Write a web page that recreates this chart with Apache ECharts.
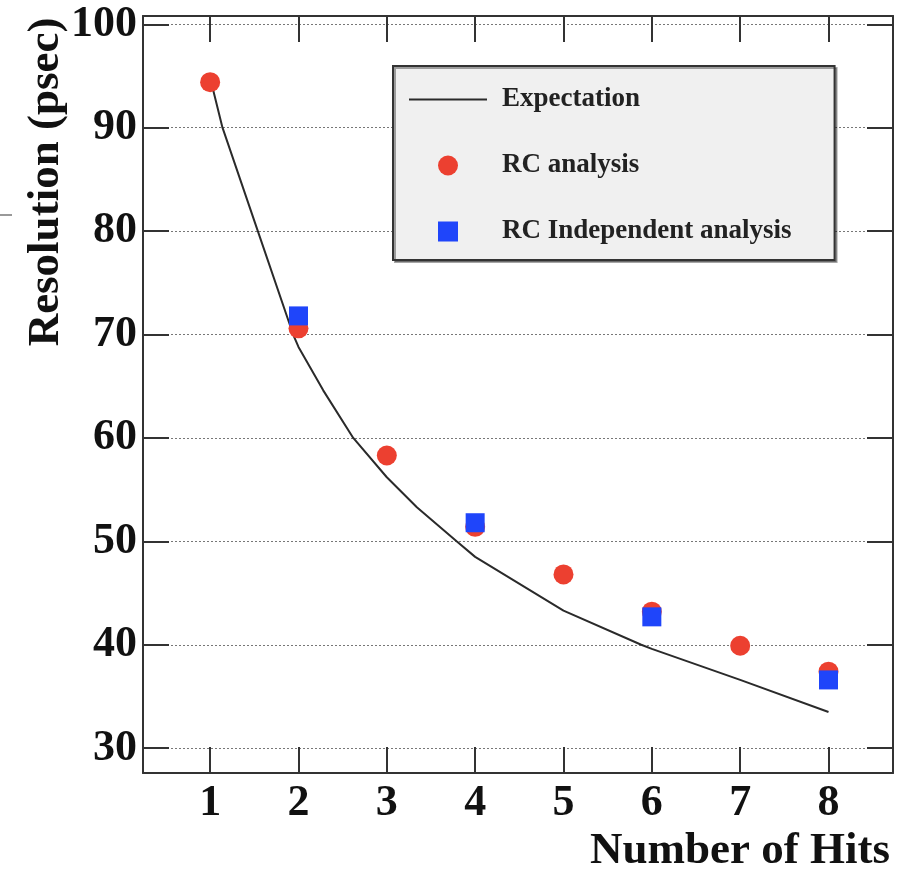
<!DOCTYPE html>
<html>
<head>
<meta charset="utf-8">
<title>Resolution vs Number of Hits</title>
<script src="https://cdn.jsdelivr.net/npm/echarts@6/dist/echarts.min.js"></script>
<style>
  html, body { margin: 0; padding: 0; background: #fff; }
  #chart { width: 916px; height: 873px; }
</style>
</head>
<body>
<div id="chart"></div>
<script>
// data
const xTicks = [1, 2, 3, 4, 5, 6, 7, 8];
const yTicks = [30, 40, 50, 60, 70, 80, 90, 100];

const expX = [1.03, 1.14, 1.54, 1.94, 2, 2.28, 2.62, 3, 3.34, 3.79, 4, 5, 5.88, 6, 7, 8];
const expY = [93.8, 90, 80, 70, 68.8, 64.6, 60, 56.2, 53.3, 50, 48.5, 43.3, 40, 39.6, 36.6, 33.5];

const rcX = [1, 2, 3, 4, 5, 6, 7, 8];
const rcY = [94.4, 70.6, 58.3, 51.4, 46.8, 43.2, 39.9, 37.4];

const indX = [2, 4, 6, 8];
const indY = [71.8, 51.8, 42.7, 36.6];

const zip = (xs, ys) => xs.map((x, i) => [x, ys[i]]);

const font = "'Liberation Serif', 'Times New Roman', serif";
const frame = '#333';

const chart = echarts.init(document.getElementById('chart'));

// shared bits for the four frame axes
const tickIn = { show: true, inside: true, length: 26, lineStyle: { color: frame, width: 2 } };
const lineFrame = { show: true, onZero: false, lineStyle: { color: frame, width: 2 } };

chart.setOption({
  animation: false,
  grid: { left: 143, right: 23, top: 16, bottom: 100 },
  xAxis: [
    {
      type: 'value', min: 0.24, max: 8.73, splitNumber: 8,
      axisLine: lineFrame,
      axisTick: Object.assign({ customValues: xTicks }, tickIn),
      axisLabel: {
        customValues: xTicks, margin: 9,
        fontFamily: font, fontWeight: 'bold', fontSize: 44, color: '#111'
      },
      splitLine: { show: false }
    },
    {
      type: 'value', position: 'top', min: 0.24, max: 8.73, splitNumber: 8,
      axisLine: lineFrame,
      axisTick: Object.assign({ customValues: xTicks }, tickIn),
      axisLabel: { show: false },
      splitLine: { show: false }
    }
  ],
  yAxis: [
    {
      type: 'value', min: 27.6, max: 100.8, splitNumber: 7,
      axisLine: lineFrame,
      axisTick: Object.assign({ customValues: yTicks }, tickIn),
      axisLabel: {
        customValues: yTicks, margin: 6,
        fontFamily: font, fontWeight: 'bold', fontSize: 44, color: '#111'
      },
      splitLine: { show: true, lineStyle: { color: '#777', type: [2, 2], width: 1 } }
    },
    {
      type: 'value', position: 'right', min: 27.6, max: 100.8, splitNumber: 7,
      axisLine: lineFrame,
      axisTick: Object.assign({ customValues: yTicks }, tickIn),
      axisLabel: { show: false },
      splitLine: { show: false }
    }
  ],
  legend: {
    orient: 'vertical',
    left: 393, top: 66,
    padding: [20, 43, 15, 16],
    itemWidth: 78, itemHeight: 20, itemGap: 39,
    backgroundColor: '#f0f0f0',
    borderColor: frame, borderWidth: 2,
    shadowColor: 'rgba(0,0,0,0.35)', shadowOffsetX: 2, shadowOffsetY: 2,
    textStyle: {
      fontFamily: font, fontWeight: 'bold', fontSize: 27, color: '#222',
      lineHeight: 20, padding: [6, 0, 0, 10]
    },
    data: [
      { name: 'Expectation', icon: 'path://M0,0L78,0L78,2L0,2Z' },
      { name: 'RC analysis', icon: 'circle' },
      { name: 'RC Independent analysis', icon: 'path://M0,0L10,0L10,10L0,10Z' }
    ]
  },
  graphic: [
    {
      type: 'text', x: 46, y: 182, rotation: Math.PI / 2,
      style: {
        text: 'Resolution (psec)', fill: '#111',
        font: "bold 45px 'Liberation Serif', 'Times New Roman', serif",
        textAlign: 'center', textVerticalAlign: 'middle'
      }
    },
    {
      type: 'text', x: 890, y: 851,
      style: {
        text: 'Number of Hits', fill: '#111',
        font: "bold 45px 'Liberation Serif', 'Times New Roman', serif",
        textAlign: 'right', textVerticalAlign: 'middle'
      }
    },
    {
      type: 'line',
      shape: { x1: 0, y1: 215, x2: 12, y2: 215 },
      style: { stroke: '#777', lineWidth: 1.5 }
    }
  ],
  series: [
    {
      name: 'Expectation', type: 'line',
      data: zip(expX, expY),
      symbol: 'none', smooth: false,
      lineStyle: { color: '#2a2a2a', width: 2 },
      itemStyle: { color: '#2a2a2a' },
      z: 2
    },
    {
      name: 'RC analysis', type: 'scatter',
      data: zip(rcX, rcY),
      symbol: 'circle', symbolSize: 20,
      itemStyle: { color: '#ec4030', opacity: 1 },
      z: 3
    },
    {
      name: 'RC Independent analysis', type: 'scatter',
      data: zip(indX, indY),
      symbol: 'rect', symbolSize: 19,
      itemStyle: { color: '#1f45fa', opacity: 1 },
      z: 4
    }
  ]
});
</script>
</body>
</html>
